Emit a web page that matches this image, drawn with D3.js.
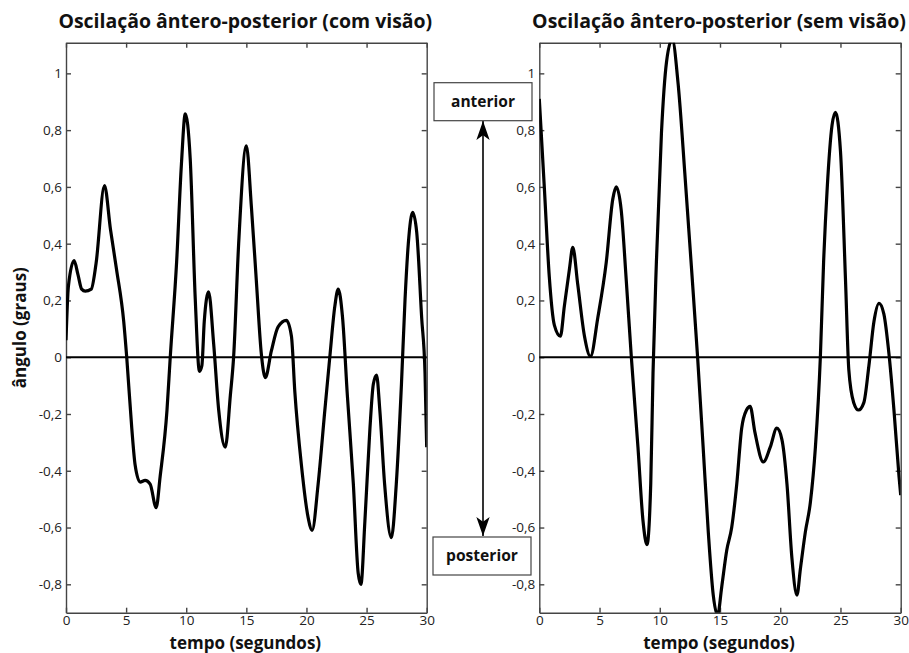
<!DOCTYPE html>
<html><head><meta charset="utf-8">
<script src="https://cdn.jsdelivr.net/npm/d3@7"></script>
<style>body{margin:0;background:#fff}svg{display:block}</style>
</head><body>
<script>
const titles = ["Oscilação ântero-posterior (com visão)", "Oscilação ântero-posterior (sem visão)"];
const xLabel = "tempo (segundos)";
const yLabel = "ângulo (graus)";
const xTicks = [0, 5, 10, 15, 20, 25, 30];
const yTicks = [-0.8, -0.6, -0.4, -0.2, 0, 0.2, 0.4, 0.6, 0.8, 1];
const annotTop = "anterior";
const annotBottom = "posterior";

const leftT = [0,0.2,0.67,1.0,1.3,1.6,2.1,2.5,3.2,3.7,4.2,4.8,5.05,5.47,5.75,6.17,6.58,7.0,7.5,7.83,8.4,8.67,9.2,9.6,9.92,10.33,10.75,11.1,11.3,11.5,11.86,12.28,12.7,13.25,13.67,13.94,14.36,15.0,15.42,15.83,16.25,16.58,17.08,17.64,18.33,18.75,19.03,19.58,20.14,20.47,20.97,21.53,21.94,22.36,22.64,23.0,23.4,23.9,24.3,24.53,24.86,25.28,25.56,25.83,26.1,26.5,27.06,27.47,27.9,28.2,28.47,28.83,29.17,29.58,29.86,30];
const leftV = [0.06,0.25,0.34,0.29,0.24,0.233,0.24,0.33,0.605,0.45,0.31,0.126,0,-0.25,-0.38,-0.44,-0.434,-0.447,-0.53,-0.42,-0.186,0,0.335,0.68,0.857,0.70,0.205,-0.05,-0.03,0.126,0.23,0.048,-0.186,-0.317,-0.134,0,0.40,0.745,0.53,0.27,0.01,-0.072,0.022,0.107,0.13,0.074,-0.12,-0.38,-0.565,-0.61,-0.447,-0.186,0,0.18,0.24,0.14,-0.134,-0.447,-0.76,-0.80,-0.577,-0.25,-0.095,-0.063,-0.186,-0.447,-0.636,-0.447,-0.095,0.205,0.40,0.51,0.44,0.14,-0.056,-0.317];

const rightT = [0,0.42,0.83,1.25,1.75,2.08,2.5,2.78,3.19,3.75,4.25,4.86,5.56,6.1,6.39,6.8,7.22,7.64,8.19,8.61,8.94,9.25,9.44,9.72,10.14,10.56,11.03,11.53,12.08,12.64,13.14,13.6,14.03,14.44,14.8,15.14,15.56,15.97,16.39,16.8,17.2,17.5,17.9,18.6,19.17,19.72,20.14,20.56,20.97,21.39,21.67,22.08,22.5,22.92,23.33,23.6,23.9,24.3,24.58,25.0,25.42,25.69,26.1,26.5,26.94,27.36,27.78,28.2,28.6,29.03,29.44,29.86,30];
const rightV = [0.91,0.596,0.283,0.113,0.074,0.18,0.31,0.387,0.257,0.074,0.003,0.14,0.335,0.557,0.60,0.518,0.27,0,-0.317,-0.577,-0.66,-0.447,-0.056,0.335,0.79,1.04,1.12,0.96,0.648,0.31,0,-0.317,-0.617,-0.838,-0.91,-0.81,-0.68,-0.60,-0.447,-0.25,-0.186,-0.173,-0.265,-0.369,-0.317,-0.25,-0.29,-0.447,-0.708,-0.838,-0.747,-0.617,-0.512,-0.317,0,0.335,0.596,0.817,0.863,0.726,0.27,-0.043,-0.16,-0.186,-0.16,-0.03,0.126,0.19,0.153,0.01,-0.186,-0.42,-0.486];

const W = 909, H = 653;
const FONT = "'Open Sans', 'DejaVu Sans', sans-serif";
const svg = d3.select("body").append("svg").attr("width", W).attr("height", H);

function fitText(sel, target, maxSize) {
  const node = sel.node();
  sel.attr("font-size", 20);
  const w = node.getComputedTextLength();
  sel.attr("font-size", Math.min(maxSize, 20 * target / w));
  return sel;
}

const defs = svg.append("defs");
defs.append("marker").attr("id","ah").attr("viewBox","0 0 20 14").attr("refX",20).attr("refY",7)
  .attr("markerWidth",19).attr("markerHeight",14).attr("markerUnits","userSpaceOnUse").attr("orient","auto-start-reverse")
  .append("path").attr("d","M0,0 L20,7 L0,14 L5,7 Z").attr("fill","#000");

const yScale = d3.scaleLinear().domain([-0.9, 1.108]).range([612.7, 42.7]);
const panels = [
  {x0: 66, x1: 426.7, t: leftT, v: leftV, title: titles[0], ylab: true},
  {x0: 539.3, x1: 900.7, t: rightT, v: rightV, title: titles[1], ylab: false}
];
const fmt = d => String(d).replace(".", ",");

panels.forEach((p, i) => {
  const x = d3.scaleLinear().domain([0, 30]).range([p.x0, p.x1]);
  const g = svg.append("g");
  const cid = "clip" + i;
  defs.append("clipPath").attr("id", cid).append("rect")
    .attr("x", p.x0).attr("y", yScale.range()[1]).attr("width", p.x1 - p.x0).attr("height", yScale.range()[0] - yScale.range()[1]);

  const axB = d3.axisBottom(x).tickValues(xTicks).tickSizeInner(-5).tickSizeOuter(0).tickPadding(3).tickFormat(d3.format("d"));
  const axT = d3.axisTop(x).tickValues(xTicks).tickSizeInner(-5).tickSizeOuter(0).tickFormat("");
  const axL = d3.axisLeft(yScale).tickValues(yTicks).tickSizeInner(-5).tickSizeOuter(0).tickPadding(4).tickFormat(fmt);
  const axR = d3.axisRight(yScale).tickValues(yTicks).tickSizeInner(-5).tickSizeOuter(0).tickFormat("");
  const style = sel => {
    sel.selectAll("path,line").attr("stroke", "#444").attr("stroke-width", 1.4);
    sel.selectAll("text").attr("font-family", FONT).attr("font-size", 13.5).attr("fill", "#222");
  };
  g.append("g").attr("transform", `translate(0,${yScale.range()[0]})`).call(axB).call(style);
  g.append("g").attr("transform", `translate(0,${yScale.range()[1]})`).call(axT).call(style);
  g.append("g").attr("transform", `translate(${p.x0},0)`).call(axL).call(style);
  g.append("g").attr("transform", `translate(${p.x1},0)`).call(axR).call(style);

  g.append("line").attr("x1", p.x0).attr("x2", p.x1).attr("y1", yScale(0)).attr("y2", yScale(0))
    .attr("stroke", "#000").attr("stroke-width", 2);

  const data = p.t.map((t, k) => [t, p.v[k]]);
  const line = d3.line().x(d => x(d[0])).y(d => yScale(d[1])).curve(d3.curveMonotoneX);
  g.append("path").datum(data).attr("d", line).attr("clip-path", `url(#${cid})`)
    .attr("fill", "none").attr("stroke", "#000").attr("stroke-width", 3.2).attr("stroke-linejoin", "round");

  const cx = (p.x0 + p.x1) / 2;
  const t = g.append("text").attr("x", cx - 1).attr("y", 28).attr("text-anchor", "middle")
    .attr("font-family", FONT).attr("font-weight", "bold").attr("fill", "#111").text(p.title);
  fitText(t, 374, 22);
  const xl = g.append("text").attr("x", cx - 1).attr("y", 649).attr("text-anchor", "middle")
    .attr("font-family", FONT).attr("font-weight", "bold").attr("fill", "#111").text(xLabel);
  fitText(xl, 152, 17);
  if (p.ylab) {
    const yl = g.append("text").attr("transform", `translate(26,${(yScale.range()[0] + yScale.range()[1]) / 2}) rotate(-90)`)
      .attr("text-anchor", "middle").attr("font-family", FONT).attr("font-weight", "bold")
      .attr("fill", "#111").text(yLabel);
    fitText(yl, 128, 17);
  }
});

const ax = 483;
svg.append("line").attr("x1", ax).attr("x2", ax).attr("y1", 121).attr("y2", 536)
  .attr("stroke", "#000").attr("stroke-width", 1.6)
  .attr("marker-start", "url(#ah)").attr("marker-end", "url(#ah)");
[[annotTop, 434, 82.7, 64], [annotBottom, 433, 537, 72]].forEach(([txt, bx, by, tw]) => {
  svg.append("rect").attr("x", bx).attr("y", by).attr("width", 98).attr("height", 38)
    .attr("fill", "#fff").attr("stroke", "#444").attr("stroke-width", 1.2);
  const tt = svg.append("text").attr("x", bx + 49).attr("y", by + 24).attr("text-anchor", "middle")
    .attr("font-family", FONT).attr("font-weight", "bold").attr("fill", "#111").text(txt);
  fitText(tt, tw, 17);
});
</script>
</body></html>
